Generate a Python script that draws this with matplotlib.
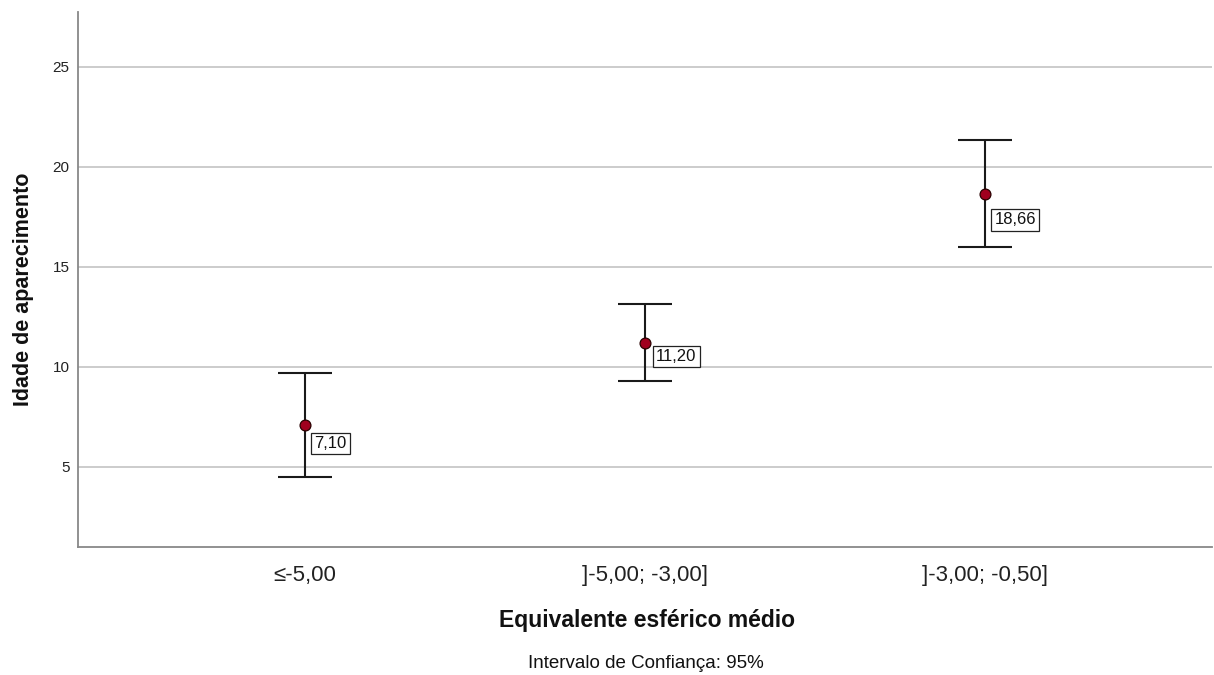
import matplotlib
matplotlib.use("Agg")
import matplotlib.pyplot as plt
import numpy as np

categories = ["≤-5,00", "]-5,00; -3,00]", "]-3,00; -0,50]"]
means = [7.10, 11.20, 18.66]
ci_lower = [4.50, 9.28, 15.98]
ci_upper = [9.70, 13.17, 21.33]
yticks = [5, 10, 15, 20, 25]

plt.rcParams['font.family'] = ['Liberation Sans', 'DejaVu Sans']

fig = plt.figure(figsize=(12.14, 6.75), dpi=100)
ax = fig.add_axes([78/1214, 1-547/675, (1212-78)/1214, (547-12)/675])

x = np.arange(len(categories))
m = np.array(means)
lo = m - np.array(ci_lower)
hi = np.array(ci_upper) - m

ax.errorbar(x, m, yerr=[lo, hi], fmt='none', ecolor='#1a1a1a', elinewidth=1.5,
            capsize=27*72/100, capthick=1.5, zorder=3)
ax.plot(x, m, 'o', markersize=7.8, markerfacecolor='#a0001e', markeredgecolor='#2a0000',
        markeredgewidth=0.9, zorder=4)

# label offsets (pixels, relative to each point) as placed in the reference
label_dx = [9.0, 11.0, 9.5]
label_dy = [-11.0, -6.0, -18.5]
for xi, mi, dx, dy in zip(x, means, label_dx, label_dy):
    ax.annotate(f"{mi:.2f}".replace('.', ','), (xi, mi), xytext=(dx, dy),
                textcoords='offset pixels', ha='left', va='top', fontsize=12,
                color='#111111',
                bbox=dict(boxstyle='square,pad=0.2', fc='white', ec='#222222', lw=0.9),
                zorder=5)

ax.set_xlim(-0.668, 2.668)
ax.set_ylim(1.0, 27.75)
ax.set_yticks(yticks)
ax.set_yticklabels([str(v) for v in yticks], fontsize=11, color='#222222')
ax.set_xticks(x)
ax.set_xticklabels(categories, fontsize=16, color='#222222')
ax.tick_params(axis='both', length=0)
ax.tick_params(axis='x', pad=13)
ax.tick_params(axis='y', pad=6)

ax.grid(axis='y', color='#c8c8c8', linewidth=1.3)
ax.set_axisbelow(True)
for s in ['top', 'right']:
    ax.spines[s].set_visible(False)
for s in ['left', 'bottom']:
    ax.spines[s].set_color('#888888')
    ax.spines[s].set_linewidth(1.3)

fig.text(24/1214, 1-289/675, "Idade de aparecimento", fontsize=15.5, fontweight='bold',
         rotation=90, ha='center', va='center', color='#111111')
fig.text((497+797)/2/1214, 1-620/675, "Equivalente esférico médio", fontsize=16.5,
         fontweight='bold', ha='center', va='center', color='#111111')
fig.text((525+767)/2/1214, 1-663/675, "Intervalo de Confiança: 95%", fontsize=13.5,
         ha='center', va='center', color='#111111')

fig.savefig("out.png", dpi=100, facecolor='white')
